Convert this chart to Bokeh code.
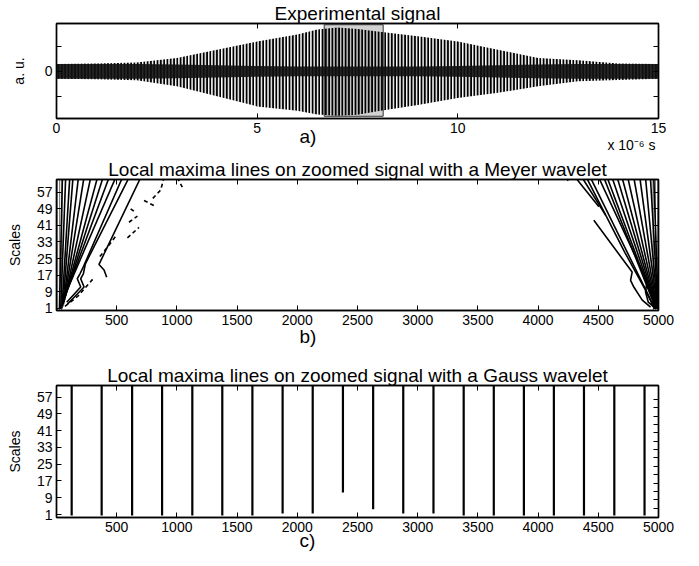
from bokeh.plotting import figure
from bokeh.layouts import column
from bokeh.models import LinearAxis, FixedTicker, Range1d, Title
from bokeh.embed import file_html
from bokeh.resources import INLINE

FONT = "Liberation Sans"

# ---------------- data: panel a (experimental signal envelope) -------------
sig_t = [0, 1, 2, 3, 4, 5, 6, 6.5, 7, 7.5, 8, 9, 10, 11, 12, 13, 14, 15]
sig_upper = [0.3, 0.32, 0.36, 0.54, 0.88, 1.21, 1.49, 1.7, 1.78, 1.72, 1.62, 1.42, 1.21, 0.88, 0.54, 0.45, 0.32, 0.3]
sig_lower = [-0.3, -0.32, -0.36, -0.6, -1.01, -1.42, -1.6, -1.75, -1.8, -1.76, -1.62, -1.36, -1.08, -0.87, -0.6, -0.4, -0.35, -0.3]
core_upper = [0.3, 0.3, 0.3, 0.28, 0.25, 0.22, 0.2, 0.2, 0.2, 0.2, 0.2, 0.2, 0.22, 0.25, 0.28, 0.3, 0.3, 0.3]
core_lower = [-0.3, -0.3, -0.3, -0.28, -0.25, -0.22, -0.2, -0.2, -0.2, -0.2, -0.2, -0.2, -0.22, -0.25, -0.28, -0.3, -0.3, -0.3]
zoom_t = [6.67, 8.14]
zoom_y = [-1.82, 1.89]
a_xticks = [0, 5, 10, 15]
a_yticks = [-1, 0, 1]

# ---------------- data: panel b (Meyer wavelet maxima lines) ----------------
pos_ticks = [500, 1000, 1500, 2000, 2500, 3000, 3500, 4000, 4500, 5000]
scale_ticks = [1, 9, 17, 25, 33, 41, 49, 57]
scale_minor = [4, 8, 12, 16, 20, 24, 28, 32, 36, 40, 44, 48, 52, 56]

meyer_edge_x = [[6, 6], [24, 26], [42, 46], [4994, 4994], [4976, 4974], [4958, 4954]]
meyer_edge_s = [[0, 64], [0, 64], [0, 64], [0, 64], [0, 64], [0, 64]]

meyer_solid_x = [
    [25, 49], [35, 76], [45, 110], [52, 137], [58, 182], [62, 228], [66, 284],
    [70, 340], [74, 386], [78, 436], [82, 491],
    [85, 201, 173, 195, 215, 547],
    [90, 229, 201, 223, 240, 602],
    [417, 395, 353, 699],
    [4311, 4505], [4366, 4560], [4402, 4720, 4890, 4965], [4435, 4970],
    [4504, 4905, 4892, 4915, 4975], [4546, 4978], [4574, 4980], [4615, 4982],
    [4657, 4984], [4698, 4986], [4745, 4988], [4795, 4990], [4845, 4992],
    [4892, 4994], [4933, 4996], [4961, 4998],
    [4463, 4781, 4768, 4795, 4865, 4934],
    [4235, 4250],
]
meyer_solid_s = [
    [1, 64], [1, 64], [1, 64], [2, 64], [3, 64], [4, 64], [5, 64],
    [6, 64], [7, 64], [8, 64], [9, 64],
    [4, 11.3, 15.3, 17.7, 20, 64],
    [3, 11.3, 15.3, 17.7, 22.5, 64],
    [16, 19.5, 22.2, 64],
    [64, 50], [64, 46], [64, 28, 10, 1], [64, 1],
    [64, 14, 9, 4, 1], [64, 1], [64, 1], [64, 1],
    [64, 1], [64, 1], [64, 1], [64, 1], [64, 1],
    [64, 1], [64, 1], [64, 1],
    [43.5, 18.5, 14.5, 11.3, 5, 1.6],
    [64, 62.5],
]
meyer_dash_x = [[70, 180, 240, 300], [360, 430, 495], [589, 685], [602, 672],
                [616, 660], [727, 810], [800, 865, 893], [1004, 1030, 1045]]
meyer_dash_s = [[2, 7, 11, 15], [26, 31, 36], [35, 40], [42.5, 45.5],
                [49, 47], [53, 50.5], [54, 58, 64], [64, 61, 59.4]]

# ---------------- data: panel c (Gauss wavelet maxima lines) ----------------
gauss_pos = [126, 375, 628, 877, 1128, 1377, 1627, 1878, 2128, 2379,
             2630, 2880, 3131, 3382, 3632, 3882, 4131, 4381, 4633, 4884]
gauss_start = [1, 1, 1, 1, 1, 1, 1, 2, 2, 12, 4, 2, 2, 1, 1, 1, 1, 1, 1, 1]
gauss_top = [64] * len(gauss_pos)


def style_axis(ax, show_labels=True):
    ax.major_tick_in = 5
    ax.major_tick_out = 0
    ax.minor_tick_line_color = None
    ax.axis_line_color = "black"
    ax.axis_line_width = 1.4
    ax.major_tick_line_color = "black"
    ax.major_tick_line_width = 1
    ax.major_label_text_font = FONT
    if show_labels:
        ax.major_label_text_font_size = "14px"
        ax.major_label_text_color = "black"
        ax.major_label_standoff = 4
    else:
        ax.major_label_text_font_size = "0px"
        ax.major_label_text_color = None
        ax.major_label_standoff = 0


def ylabel(p, text, standoff):
    ax = p.yaxis[0]
    ax.axis_label = text
    ax.axis_label_standoff = standoff
    ax.axis_label_text_font = FONT
    ax.axis_label_text_font_size = "14px"
    ax.axis_label_text_font_style = "normal"
    ax.axis_label_text_color = "black"


def make_fig(height, xr, yr, top, bottom):
    p = figure(width=698, height=height, x_range=Range1d(*xr), y_range=Range1d(*yr),
               toolbar_location=None, output_backend="svg",
               min_border_left=56, min_border_right=40,
               min_border_top=top, min_border_bottom=bottom)
    p.xgrid.grid_line_color = None
    p.ygrid.grid_line_color = None
    p.outline_line_color = "black"
    p.outline_line_width = 1.4
    p.background_fill_color = "white"
    p.border_fill_color = "white"
    return p


def mirror(p, xticks, yticks_right):
    ax_top = LinearAxis(ticker=FixedTicker(ticks=xticks))
    style_axis(ax_top, False)
    p.add_layout(ax_top, "above")
    ax_r = LinearAxis(ticker=FixedTicker(ticks=yticks_right))
    style_axis(ax_r, False)
    p.add_layout(ax_r, "right")


def head(p, text):
    p.add_layout(Title(text=text, align="center", vertical_align="bottom", standoff=0,
                       text_font=FONT, text_font_size="19px", text_font_style="normal",
                       text_color="black"), "above")


def foot(p, text, size, align, offset, standoff):
    p.add_layout(Title(text=text, align=align, vertical_align="top", offset=offset,
                       standoff=standoff, text_font=FONT, text_font_size=size,
                       text_font_style="normal", text_color="black"), "below")


# ---------------- panel a ----------------
pa = make_fig(155, (0, 15), (-1.91, 1.94), 23, 37)
pa.xaxis.ticker = FixedTicker(ticks=a_xticks)
pa.yaxis.ticker = FixedTicker(ticks=a_yticks)
pa.yaxis.major_label_overrides = {-1: "", 1: ""}
style_axis(pa.xaxis[0])
style_axis(pa.yaxis[0])
ylabel(pa, "a. u.", 15)
mirror(pa, [5, 10], a_yticks)
head(pa, "Experimental signal")
foot(pa, "a)", "19px", "left", 243, -20)
foot(pa, "x 10\u207b\u2076 s", "14px", "right", 3, -3)
pa.quad(left=zoom_t[0], right=zoom_t[1], bottom=zoom_y[0], top=zoom_y[1],
        fill_color="#d2d2d2", line_color="#333333", line_width=1)
pa.varea(x=sig_t, y1=sig_lower, y2=sig_upper, fill_alpha=0,
         hatch_pattern="vertical_line", hatch_color="black",
         hatch_weight=2.4, hatch_scale=3.3)
pa.varea(x=sig_t, y1=core_lower, y2=core_upper, fill_color="#111111", fill_alpha=0.9)

# ---------------- panel b ----------------
pb = make_fig(198, (0, 5000), (0, 63.1), 24, 43)
pb.xaxis.ticker = FixedTicker(ticks=pos_ticks)
pb.yaxis.ticker = FixedTicker(ticks=scale_ticks)
style_axis(pb.xaxis[0])
style_axis(pb.yaxis[0])
ylabel(pb, "Scales", 11)
mirror(pb, pos_ticks, scale_ticks)
head(pb, "Local maxima lines on zoomed signal with a Meyer wavelet")
foot(pb, "b)", "19px", "left", 243, -4)
pb.multi_line(xs=meyer_edge_x, ys=meyer_edge_s, line_color="black", line_width=1.2, line_dash="1 1")
pb.multi_line(xs=meyer_solid_x, ys=meyer_solid_s, line_color="black", line_width=1.6)
pb.multi_line(xs=meyer_dash_x, ys=meyer_dash_s, line_color="black", line_width=1.6, line_dash="4 3")

# ---------------- panel c ----------------
pc = make_fig(212, (0, 5000), (-0.43, 62.6), 32, 48)
pc.xaxis.ticker = FixedTicker(ticks=pos_ticks)
pc.yaxis.ticker = FixedTicker(ticks=scale_ticks)
style_axis(pc.xaxis[0])
style_axis(pc.yaxis[0])
ylabel(pc, "Scales", 11)
mirror(pc, pos_ticks, scale_minor)
head(pc, "Local maxima lines on zoomed signal with a Gauss wavelet")
foot(pc, "c)", "19px", "left", 243, -10)
pc.segment(x0=gauss_pos, y0=gauss_start, x1=gauss_pos, y1=gauss_top,
           line_color="black", line_width=2.2, line_cap="square")

layout = column(pa, pb, pc)
open("out.html", "w").write(file_html(layout, INLINE))
